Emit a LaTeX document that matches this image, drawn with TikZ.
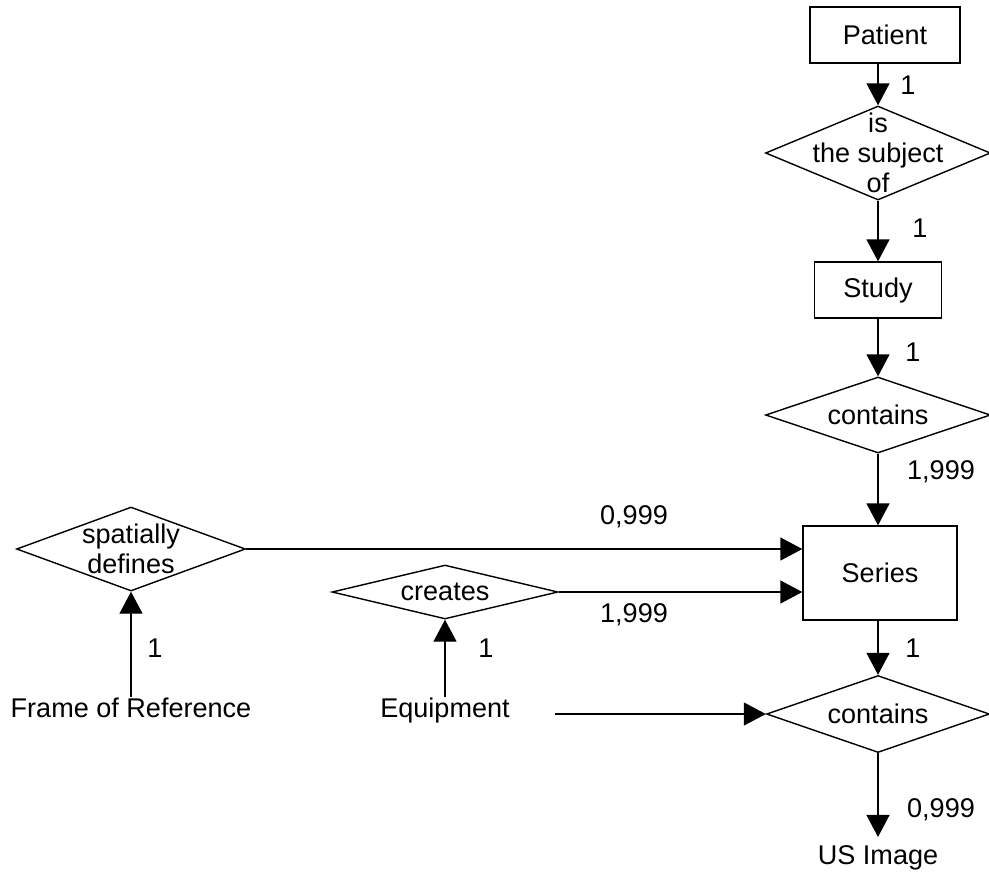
\documentclass[tikz,border=0pt]{standalone}
\usepackage{fontspec}
\setmainfont{Liberation Sans}
\usetikzlibrary{shapes.geometric, arrows.meta, positioning}
\tikzset{
  entity/.style={rectangle, draw, line width=0.8pt, inner sep=0pt, minimum width=3cm, minimum height=1.12cm},
  relation/.style={diamond, draw, line width=0.8pt, inner sep=0pt, aspect=2.5, minimum width=4.5cm},
  reltext/.style={align=center},
  card/.style={inner sep=0pt},
  plain/.style={inner sep=0pt, text height=11.2pt, text depth=3.3pt, anchor=base},
  arrow/.style={-{Triangle[length=0.44cm, width=0.46cm]}, line width=0.8pt},
}

\begin{document}
\begin{tikzpicture}[x=0.02cm, y=-0.02cm, font=\fontsize{15.4}{17.2}\selectfont]
\useasboundingbox (0,0) rectangle (989,880);
% entities
\node (patient) [entity] at (885,35) {Patient};
\node (study) [entity, minimum width=2.54cm] at (878,290) {Study};
\node (series) [entity, minimum width=3.08cm, minimum height=1.88cm] at (880,573) {Series};
% relations
\node (subject) [relation, minimum height=1.88cm, label={[reltext]center:is\\the subject\\of}] at (878,153) {};
\node (contains1) [relation, minimum height=1.52cm, label={[reltext]center:contains}] at (878,415) {};
\node (defines) [relation, minimum width=4.58cm, minimum height=1.68cm, label={[reltext]center:spatially\\defines}] at (131,549) {};
\node (creates) [relation, minimum width=4.52cm, minimum height=1.08cm, label={[reltext]center:creates}] at (445,592) {};
\node (contains2) [relation, minimum width=4.46cm, minimum height=1.54cm, label={[reltext]center:contains}] at (878,714) {};
% plain entities
\node (frame) [plain] at (131,717) {Frame of Reference};
\node (equip) [plain] at (445,717) {Equipment};
\node (usimage) [plain] at (878,864) {US Image};
\coordinate (equipout) at (555,714);
% connectors
\draw[arrow] (patient.south -| subject.north) -- (subject.north);
\draw[arrow] (subject) -- (study);
\draw[arrow] (study) -- (contains1);
\draw[arrow] (contains1.south) -- (contains1.south |- series.north);
\draw[arrow] (defines.east) -- (defines.east -| series.west);
\draw[arrow] (creates.east) -- (creates.east -| series.west);
\draw[arrow] (series.south -| contains2.north) -- (contains2.north);
\draw[arrow] (frame.north) -- (defines.south);
\draw[arrow] (equip.north) -- (creates.south);
\draw[arrow] (equipout) -- (contains2.west);
\draw[arrow, shorten >=4pt] (contains2.south) -- (usimage.north);
% cardinalities
\node (c1) [card] at (908,85) {1};
\node (c2) [card] at (920,228) {1};
\node (c3) [card] at (913,352) {1};
\node (c4) [card] at (941,472) {1,999};
\node (c5) [card] at (634,517) {0,999};
\node (c6) [card] at (634,615) {1,999};
\node (c7) [card] at (155,648) {1};
\node (c8) [card] at (486,648) {1};
\node (c9) [card] at (913,648) {1};
\node (c10) [card] at (941,810) {0,999};
\end{tikzpicture}
\end{document}
